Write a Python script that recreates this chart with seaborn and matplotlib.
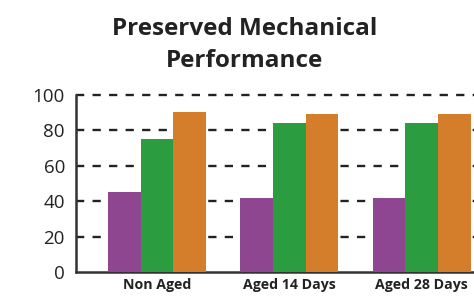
import numpy as np
import pandas as pd
import matplotlib
matplotlib.use('Agg')
import matplotlib.pyplot as plt
import seaborn as sns

# --- data ---
categories = ["Non Aged", "Aged 14 Days", "Aged 28 Days"]
series_names = ["A", "B", "C"]
series_a = [45, 41.6, 41.6]
series_b = [75.3, 84.3, 84.3]
series_c = [90.6, 89, 89]
colors = ["#8E4690", "#2B9C40", "#D47D2A"]

df = pd.DataFrame({
    "cat": categories * 3,
    "series": [s for s in series_names for _ in categories],
    "value": series_a + series_b + series_c,
})

sns.set_style("white")
plt.rcParams['font.family'] = ['Open Sans', 'DejaVu Sans']

fig = plt.figure(figsize=(4.74, 2.96), dpi=100)
ax = fig.add_axes([76 / 474, 24 / 296, 398 / 474, 177 / 296])

sns.barplot(data=df, x="cat", y="value", hue="series", palette=colors,
            width=0.74, saturation=1, legend=False, ax=ax, zorder=3,
            linewidth=0, edgecolor="none")

ax.set_ylim(0, 100)
ax.set_xlim(-0.614, 2.396)
ax.set_yticks([0, 20, 40, 60, 80, 100])
ax.yaxis.grid(True, linestyle=(0, (3.5, 3.5)), color="#222222", linewidth=1.7, zorder=0)
ax.set_axisbelow(True)
ax.set_xlabel("")
ax.set_ylabel("")

# drop the gridline on the baseline, let the top one show fully
grid_lines = ax.yaxis.get_gridlines()
grid_lines[0].set_visible(False)
for gl in grid_lines:
    gl.set_clip_on(False)

for s in ["top", "right"]:
    ax.spines[s].set_visible(False)
for s in ["left", "bottom"]:
    ax.spines[s].set_color("#333333")
    ax.spines[s].set_linewidth(1.8)

ax.tick_params(axis="y", length=0, pad=8, labelsize=13.5, labelcolor="#222222")
ax.tick_params(axis="x", length=0, pad=4, labelsize=10.2, labelcolor="#222222")
for lab in ax.get_xticklabels():
    lab.set_fontweight("bold")

fig.text(245 / 474, 1 - 45 / 296, "Preserved Mechanical\nPerformance", ha="center", va="center",
         fontsize=17.5, fontweight="bold", color="#222222", linespacing=1.4)

fig.savefig("out.png", dpi=100)
